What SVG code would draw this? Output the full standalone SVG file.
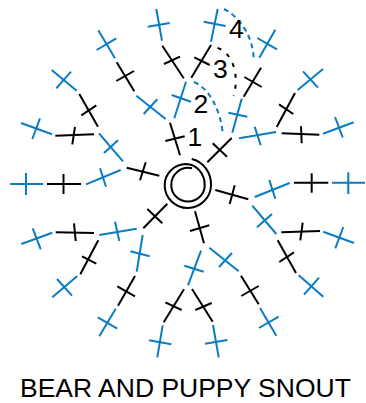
<svg xmlns="http://www.w3.org/2000/svg" width="366" height="403" viewBox="0 0 366 403">
<style>
line,path{fill:none;stroke-width:2;stroke-linecap:butt}
.b line,path.b{stroke:#0a7cc2}
.k line,path.k{stroke:#000}
.d{stroke-dasharray:5 4}
.e{stroke-dasharray:4 7}
text{font-family:"Liberation Sans",Arial,sans-serif;font-size:26.5px;fill:#000}
</style>
<rect width="366" height="403" fill="#fff"/>
<g id="center"><path class="k" d="M191.7 159A24 26 0 0 1 211 185.5A23.5 23 0 0 1 187.8 208A23 22.8 0 0 1 164.7 185.5A22 21 0 0 1 186 164A19 21 0 0 1 204.7 185.5A17 16 0 0 1 188 201.5A16.7 16 0 0 1 171.3 185.5A17 17 0 0 1 192 168.3"/></g>
<g id="connectors">
<g class="k">
<line x1="170" y1="122.7" x2="180" y2="155.3"/><line x1="165.3" y1="141" x2="184.7" y2="136.3"/>
<line x1="116.7" y1="62.3" x2="134.3" y2="91.3"/><line x1="116.3" y1="81" x2="134" y2="71"/>
<line x1="162.3" y1="45.7" x2="183.7" y2="78.3"/><line x1="164" y1="64" x2="180" y2="56.7"/>
<line x1="126.7" y1="167.7" x2="159.3" y2="175.7"/><line x1="145.7" y1="162.3" x2="140" y2="180.3"/>
<line x1="79.3" y1="94" x2="98" y2="126.7"/><line x1="81.3" y1="115.3" x2="96.3" y2="105.3"/>
<line x1="55.3" y1="135.7" x2="94" y2="134.3"/><line x1="75" y1="127" x2="72.3" y2="144.3"/>
<line x1="47" y1="184" x2="81" y2="184"/><line x1="63.5" y1="174" x2="63.5" y2="194"/>
<line x1="167.3" y1="203.7" x2="143.3" y2="228.3"/><line x1="147.3" y1="209" x2="162.3" y2="223.3"/>
<line x1="55.7" y1="232.3" x2="94" y2="233"/><line x1="74" y1="223.3" x2="75.7" y2="241"/>
<line x1="98.3" y1="240.3" x2="80.3" y2="274.3"/><line x1="82" y1="256.3" x2="96.3" y2="263.7"/>
<line x1="135" y1="276" x2="118" y2="305.7"/><line x1="117.3" y1="286.3" x2="135" y2="296.3"/>
<line x1="195" y1="211.3" x2="204" y2="243.3"/><line x1="190" y1="231" x2="209.3" y2="225.3"/>
<line x1="184" y1="289.3" x2="163.7" y2="322.3"/><line x1="165.3" y1="302.3" x2="181.7" y2="310"/>
<line x1="192" y1="289" x2="212.7" y2="321.7"/><line x1="195.3" y1="310" x2="211.7" y2="303"/>
<line x1="241" y1="275.7" x2="258.7" y2="304.3"/><line x1="241.3" y1="296" x2="258.7" y2="286"/>
<line x1="215.3" y1="190" x2="248.3" y2="199.3"/><line x1="234.7" y1="185.3" x2="229.7" y2="204"/>
<line x1="294" y1="182.7" x2="328.3" y2="182.7"/><line x1="311.7" y1="173.3" x2="311.7" y2="192.7"/>
<line x1="281.3" y1="232.3" x2="320" y2="231"/><line x1="302.7" y1="222.7" x2="300.3" y2="240.3"/>
<line x1="277.7" y1="240.3" x2="296" y2="273"/><line x1="279.3" y1="262" x2="294" y2="252.3"/>
<line x1="207.3" y1="162.3" x2="231.7" y2="138"/><line x1="212.7" y1="143.3" x2="227" y2="156.7"/>
<line x1="243.7" y1="96.7" x2="261" y2="67.7"/><line x1="244.3" y1="77" x2="261.7" y2="87"/>
<line x1="281.7" y1="133.3" x2="319.3" y2="134.7"/><line x1="301" y1="126.3" x2="301.7" y2="143.3"/>
<line x1="276.7" y1="127" x2="295" y2="93"/><line x1="279" y1="104.3" x2="293.3" y2="114"/>
<line x1="211" y1="45" x2="191.3" y2="77.7"/><line x1="194.3" y1="57.3" x2="209.7" y2="65"/>
</g>
<g class="b">
<line x1="186" y1="81.7" x2="174.3" y2="118.3"/><line x1="171.7" y1="95" x2="191" y2="101.7"/>
<line x1="136.3" y1="95.7" x2="165.7" y2="119"/><line x1="143.7" y1="114" x2="157.3" y2="99.3"/>
<line x1="98.3" y1="30.3" x2="115" y2="58.3"/><line x1="96.7" y1="50" x2="116.3" y2="38.3"/>
<line x1="156.3" y1="9" x2="162" y2="40.7"/><line x1="147.7" y1="26.7" x2="169.7" y2="23"/>
<line x1="99" y1="133.3" x2="123" y2="161.3"/><line x1="104" y1="153" x2="118" y2="140.3"/>
<line x1="51.7" y1="70" x2="76.7" y2="90.7"/><line x1="56.3" y1="88.3" x2="71" y2="71.7"/>
<line x1="21" y1="123" x2="52" y2="134.3"/><line x1="40" y1="118.3" x2="32.3" y2="139"/>
<line x1="86" y1="184.3" x2="120.7" y2="170"/><line x1="100" y1="168.3" x2="106" y2="186.7"/>
<line x1="10.3" y1="184" x2="43.3" y2="184"/><line x1="26" y1="173" x2="26" y2="195"/>
<line x1="99.3" y1="235" x2="136.7" y2="228.7"/><line x1="115" y1="221.7" x2="119.3" y2="241"/>
<line x1="21.3" y1="244" x2="52.3" y2="232.7"/><line x1="32.7" y1="228.3" x2="40.7" y2="249.3"/>
<line x1="77.3" y1="276" x2="52.3" y2="297.3"/><line x1="57" y1="279" x2="72" y2="295.7"/>
<line x1="142.7" y1="235" x2="136.7" y2="271.7"/><line x1="130.3" y1="251.3" x2="149.7" y2="256.3"/>
<line x1="115.7" y1="308.7" x2="99.3" y2="336.3"/><line x1="97.7" y1="317.3" x2="117.3" y2="328.7"/>
<line x1="201" y1="250.7" x2="188" y2="285.3"/><line x1="184.3" y1="265.7" x2="203.7" y2="271.7"/>
<line x1="162.7" y1="325.3" x2="157.3" y2="357.3"/><line x1="149" y1="340.3" x2="171.3" y2="344.3"/>
<line x1="213" y1="325" x2="218.7" y2="357.3"/><line x1="205" y1="343.7" x2="227.3" y2="340"/>
<line x1="209.3" y1="247.7" x2="238.7" y2="271.3"/><line x1="219" y1="267" x2="232" y2="253"/>
<line x1="260" y1="308" x2="276.3" y2="335.7"/><line x1="259" y1="328" x2="278.7" y2="316.7"/>
<line x1="254.7" y1="197" x2="289.7" y2="183"/><line x1="269.3" y1="180" x2="275.3" y2="198.7"/>
<line x1="332" y1="182.7" x2="365" y2="182.7"/><line x1="348.3" y1="172.3" x2="348.3" y2="194"/>
<line x1="252.3" y1="205.7" x2="276.3" y2="234"/><line x1="257" y1="227.3" x2="272" y2="214"/>
<line x1="323.3" y1="231.7" x2="354" y2="243"/><line x1="343.3" y1="227" x2="335.3" y2="248.3"/>
<line x1="298.7" y1="275.3" x2="323.3" y2="296.7"/><line x1="304" y1="294.7" x2="319" y2="277.7"/>
<line x1="232.3" y1="132.7" x2="241.7" y2="98.7"/><line x1="228.3" y1="112.7" x2="247.3" y2="116.7"/>
<line x1="259.3" y1="57.7" x2="275.3" y2="29.7"/><line x1="257.3" y1="38" x2="277" y2="49.3"/>
<line x1="239" y1="138.3" x2="276" y2="132"/><line x1="254.7" y1="126.7" x2="260.7" y2="145.3"/>
<line x1="323" y1="133.7" x2="353.7" y2="122.3"/><line x1="335" y1="117" x2="342.7" y2="137.3"/>
<line x1="297.7" y1="90" x2="323" y2="69"/><line x1="303" y1="71.3" x2="318" y2="87.7"/>
<line x1="217.7" y1="9" x2="211" y2="41.7"/><line x1="203.7" y1="21.7" x2="225.7" y2="26"/>
</g>
<path class="b d" d="M194 82C210 89 220 110 222.7 132.5"/>
<path class="k e" d="M217.5 48C232 52 240 75 233.5 96"/>
<path class="b d" d="M224 9C240 17 254 38 253.7 61"/>
</g>
<g id="label-1"><text x="187.5" y="145.7">1</text></g>
<g id="label-2"><text x="193.5" y="113">2</text></g>
<g id="label-3"><text x="213" y="78">3</text></g>
<g id="label-4"><text x="229" y="38.3">4</text></g>
<g id="title"><text x="20" y="396.5">BEAR AND PUPPY SNOUT</text></g>
</svg>
